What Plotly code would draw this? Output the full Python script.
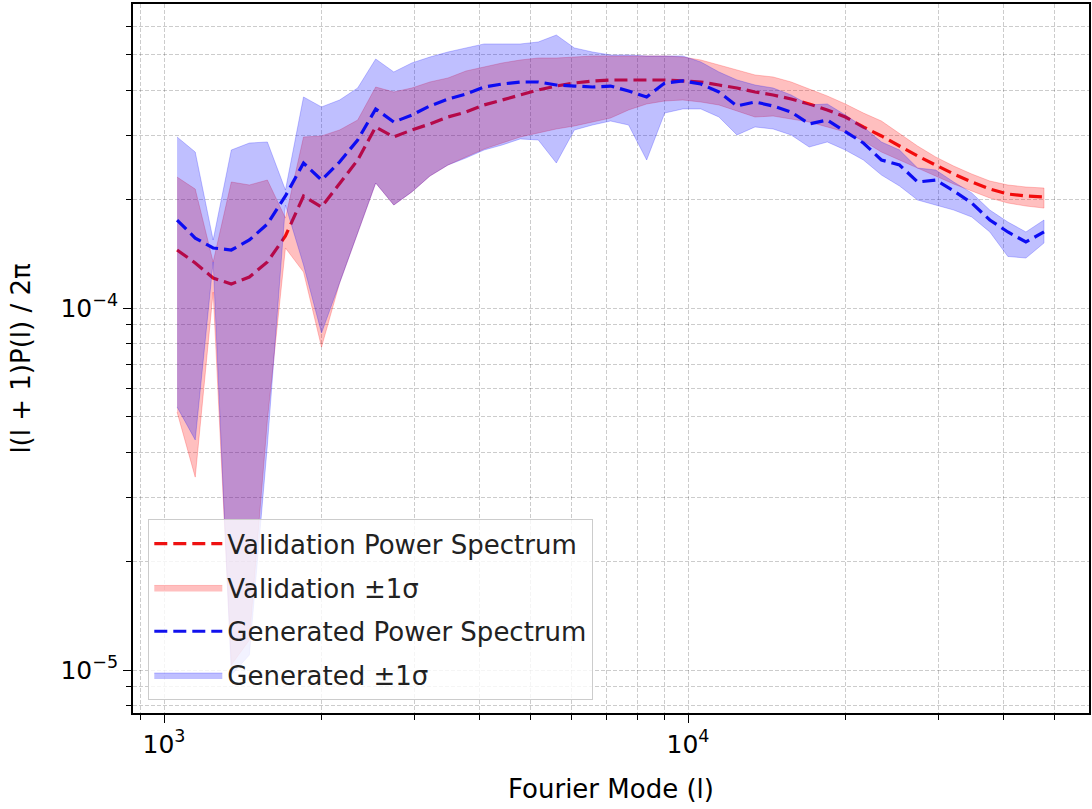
import plotly.graph_objects as go

# Fourier modes (bin centres)
ell = [1059, 1147, 1241, 1344, 1455, 1575, 1705, 1846, 1998, 2163,
       2342, 2535, 2745, 2971, 3217, 3483, 3770, 4082, 4419, 4784,
       5179, 5607, 6070, 6572, 7115, 7702, 8339, 9027, 9773, 10581,
       11455, 12401, 13425, 14534, 15735, 17034, 18441, 19965, 21614, 23399,
       25332, 27424, 29689, 32142, 34796, 37671, 40782, 44150, 47797]

UNIT = 1e-4  # all spectrum values below are in units of 1e-4

val_mean = [1.446, 1.332, 1.210, 1.165, 1.218, 1.340, 1.581, 2.039, 1.901, 2.214,
            2.564, 3.163, 2.968, 3.103, 3.224, 3.370, 3.479, 3.638, 3.755, 3.877,
            4.002, 4.104, 4.183, 4.238, 4.265, 4.265, 4.265, 4.265, 4.238, 4.211,
            4.130, 4.053, 3.952, 3.877, 3.779, 3.661, 3.524, 3.370, 3.163, 2.987,
            2.802, 2.630, 2.483, 2.345, 2.229, 2.131, 2.065, 2.039, 2.026]
val_upper = [2.300, 2.131, 1.340, 2.229, 2.187, 2.257, 1.772, 2.968, 2.987, 3.103,
             3.306, 4.078, 3.952, 4.053, 4.211, 4.320, 4.516, 4.632, 4.752, 4.843,
             4.905, 4.905, 4.936, 4.968, 4.968, 4.968, 4.968, 4.968, 4.936, 4.843,
             4.692, 4.545, 4.403, 4.347, 4.211, 4.027, 3.853, 3.661, 3.457, 3.285,
             3.025, 2.802, 2.614, 2.467, 2.345, 2.243, 2.187, 2.159, 2.145]
val_lower = [0.516, 0.341, 1.107, 0.1032, 0.1210, 0.490, 1.465, 1.257, 0.780, 1.172,
             1.611, 2.214, 1.925, 2.092, 2.315, 2.483, 2.614, 2.749, 2.856, 2.968,
             3.044, 3.123, 3.183, 3.264, 3.348, 3.524, 3.661, 3.731, 3.755, 3.707,
             3.638, 3.502, 3.370, 3.391, 3.327, 3.264, 3.163, 3.064, 2.893, 2.697,
             2.564, 2.436, 2.315, 2.201, 2.105, 2.013, 1.950, 1.913, 1.888]

gen_mean = [1.750, 1.560, 1.465, 1.446, 1.541, 1.706, 2.039, 2.515, 2.257, 2.531,
            2.912, 3.547, 3.264, 3.413, 3.615, 3.779, 3.902, 4.078, 4.157, 4.211,
            4.211, 4.130, 4.104, 4.078, 4.104, 3.977, 3.828, 4.183, 4.238, 4.157,
            3.952, 3.615, 3.707, 3.615, 3.479, 3.224, 3.306, 3.064, 2.856, 2.564,
            2.483, 2.229, 2.257, 2.105, 1.950, 1.750, 1.622, 1.522, 1.622]
gen_upper = [2.968, 2.697, 1.541, 2.732, 2.856, 2.875, 2.118, 3.828, 3.593, 3.755,
             4.053, 4.874, 4.488, 4.752, 4.936, 5.096, 5.229, 5.363, 5.363, 5.363,
             5.431, 5.677, 5.229, 5.096, 5.000, 5.000, 4.968, 4.968, 4.968, 4.782,
             4.488, 4.265, 4.130, 4.053, 3.877, 3.638, 3.661, 3.413, 3.163, 2.875,
             2.732, 2.436, 2.406, 2.229, 2.079, 1.865, 1.728, 1.622, 1.750]
gen_lower = [0.533, 0.432, 1.340, 0.0969, 0.1100, 0.418, 1.925, 1.315, 0.853, 1.172,
             1.611, 2.214, 1.925, 2.092, 2.315, 2.483, 2.597, 2.732, 2.820, 2.931,
             2.912, 2.515, 3.103, 3.203, 3.285, 3.203, 2.564, 3.457, 3.547, 3.547,
             3.370, 3.006, 3.163, 3.123, 3.006, 2.784, 2.875, 2.732, 2.564, 2.330,
             2.173, 1.988, 1.925, 1.865, 1.784, 1.622, 1.388, 1.374, 1.512]

x_major = [1e3, 1e4]
x_major_text = ["10<sup>3</sup>", "10<sup>4</sup>"]
x_minor = [900, 2000, 3000, 4000, 5000, 6000, 7000, 8000, 9000,
           20000, 30000, 40000, 50000]
y_major = [1e-5, 1e-4]
y_major_text = ["10<sup>\u22125</sup>", "10<sup>\u22124</sup>"]
y_minor = [8e-6, 9e-6, 2e-5, 3e-5, 4e-5, 5e-5, 6e-5, 7e-5, 8e-5, 9e-5,
           2e-4, 3e-4, 4e-4, 5e-4, 6e-4, 7e-4]


def sc(a):
    return [v * UNIT for v in a]


def band(lo, hi):
    return ell + ell[::-1], sc(hi) + sc(lo)[::-1]


fig = go.Figure()

fig.add_trace(go.Scatter(x=ell, y=sc(val_mean), mode="lines",
                         name="Validation Power Spectrum", legendgroup="a",
                         line=dict(color="#ee1111", width=3.2, dash="13px,6px")))
bx, by = band(val_lower, val_upper)
fig.add_trace(go.Scatter(x=bx, y=by, mode="lines", fill="toself",
                         name="Validation \u00b11\u03c3", legendgroup="b",
                         fillcolor="rgba(255,0,0,0.25)",
                         line=dict(color="rgba(255,0,0,0.22)", width=1)))
fig.add_trace(go.Scatter(x=ell, y=sc(gen_mean), mode="lines",
                         name="Generated Power Spectrum", legendgroup="c",
                         line=dict(color="#1111ee", width=3.2, dash="13px,6px")))
bx, by = band(gen_lower, gen_upper)
fig.add_trace(go.Scatter(x=bx, y=by, mode="lines", fill="toself",
                         name="Generated \u00b11\u03c3", legendgroup="d",
                         fillcolor="rgba(0,0,255,0.25)",
                         line=dict(color="rgba(0,0,255,0.22)", width=1)))

grid_col = "rgba(0,0,0,0.2)"
axis_common = dict(
    type="log", showline=True, mirror=True, linecolor="black", linewidth=1.8,
    ticks="outside", ticklen=8, tickwidth=1.4, tickcolor="black",
    showgrid=True, gridcolor=grid_col, griddash="4px,2px", gridwidth=1,
    zeroline=False, tickfont=dict(size=25, color="black"),
)

fig.update_xaxes(
    **axis_common,
    range=[2.9408, 4.7653],
    tickmode="array", tickvals=x_major, ticktext=x_major_text,
    minor=dict(tickmode="array", tickvals=x_minor, ticks="outside", ticklen=5,
               tickwidth=1.2, tickcolor="black", showgrid=True,
               gridcolor=grid_col, griddash="4px,2px", gridwidth=1),
    title=dict(text="Fourier Mode (l)", font=dict(size=26, color="black"), standoff=22),
)
fig.update_yaxes(
    **axis_common,
    range=[-5.1188, -3.1602],
    tickmode="array", tickvals=y_major, ticktext=y_major_text,
    minor=dict(tickmode="array", tickvals=y_minor, ticks="outside", ticklen=5,
               tickwidth=1.2, tickcolor="black", showgrid=True,
               gridcolor=grid_col, griddash="4px,2px", gridwidth=1),
    title=dict(text="l(l + 1)P(l) / 2\u03c0", font=dict(size=26, color="black"), standoff=22),
)

fig.update_layout(
    width=1092, height=809,
    margin=dict(l=133, r=3, t=4, b=96, autoexpand=False),
    paper_bgcolor="white", plot_bgcolor="white",
    font=dict(family="DejaVu Sans", size=26, color="black"),
    legend=dict(x=0.016, y=0.018, xanchor="left", yanchor="bottom",
                bgcolor="rgba(255,255,255,0.8)", bordercolor="#cccccc",
                borderwidth=1, font=dict(size=26, color="#222222"),
                itemwidth=68, traceorder="grouped", tracegroupgap=7),
)

fig.write_html("out.html")
